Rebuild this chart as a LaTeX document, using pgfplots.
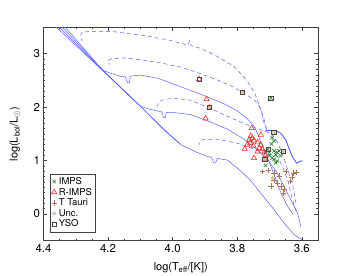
\documentclass[border=0pt]{standalone}
\usepackage{fontspec}
\setmainfont{TeX Gyre Heros}
\usepackage{pgfplots}
\pgfplotsset{compat=1.18}
\definecolor{trk}{RGB}{85,95,255}
\definecolor{impsc}{RGB}{30,120,30}
\definecolor{rimpsc}{RGB}{250,40,40}
\definecolor{ttauc}{RGB}{175,115,85}
\definecolor{uncc}{RGB}{215,190,150}
\definecolor{ysoc}{RGB}{70,70,70}
\begin{document}
\begin{tikzpicture}
\useasboundingbox (-43.5bp,-35.3bp) rectangle (301.5bp,240.7bp);
\begin{axis}[
  at={(0,0)}, anchor=south west,
  scale only axis, width=274.5bp, height=213.7bp,
  x dir=reverse, xmin=3.55, xmax=4.4, ymin=-0.5, ymax=3.5,
  xtick={3.6,3.8,4.0,4.2,4.4}, ytick={0,1,2,3},
  minor x tick num=3, minor y tick num=9,
  tick align=inside, xtick pos=both, ytick pos=both,
  major tick length=4bp, minor tick length=2bp,
  axis line style={black!75, line width=0.6pt},
  every tick/.style={black!75, line width=0.5pt},
  xticklabel style={/pgf/number format/fixed, /pgf/number format/precision=1, /pgf/number format/fixed zerofill},
  /pgf/number format/assume math mode=true,
  tick label style={font=\fontsize{11.5}{13}\selectfont},
  label style={font=\fontsize{11}{13}\selectfont},
  xlabel={log(T\textsubscript{eff}/[K])},
  ylabel={log(L\textsubscript{bol}/L\textsubscript{$\odot$})},
  xlabel style={at={(axis description cs:0.5,-0.126)}, anchor=center},
  ylabel style={at={(axis description cs:-0.104,0.5)}, anchor=center},
  legend style={at={(axis description cs:0.023,0.04)}, anchor=south west,
    font=\fontsize{9.5}{10}\selectfont, draw=black!75, inner sep=1.5pt, row sep=-1.8pt,
    cells={anchor=west}},
  legend cell align=left,
]
% ---- solid lines
\addplot[trk, line width=0.5pt, forget plot] coordinates {
(4.378,3.6) (4.22,2.70) (4.193,2.637) (4.16,2.575) (4.147,2.57) (4.140,2.46) (4.134,2.45) (4.131,2.58) (4.10,2.60) (4.045,2.54) (3.97,2.37) (3.90,2.21) (3.84,2.06) (3.80,1.93) (3.77,1.79) (3.75,1.66) (3.738,1.52) (3.722,1.27) (3.70,0.96) (3.68,0.64) (3.665,0.40) (3.645,0.15) (3.628,0.0)};
\addplot[trk, line width=0.5pt, forget plot] coordinates {
(4.368,3.6) (4.214,2.672) (4.10,2.013) (4.07,1.96) (4.045,1.925) (4.033,1.91) (4.029,1.81) (4.023,1.80) (4.020,1.90) (3.997,1.90) (3.945,1.86) (3.882,1.72) (3.831,1.59) (3.779,1.40) (3.737,1.20) (3.706,1.014) (3.675,0.764) (3.655,0.515) (3.634,0.265) (3.613,0.015) (3.603,-0.234)};
\addplot[trk, line width=0.5pt, forget plot] coordinates {
(4.358,3.6) (4.214,2.674) (4.10,2.017) (4.028,1.58) (3.976,1.30) (3.955,1.24) (3.92,1.14) (3.879,1.05) (3.873,0.96) (3.867,0.955) (3.862,1.04) (3.831,1.01) (3.80,0.86) (3.76,0.64) (3.725,0.37) (3.69,0.11) (3.655,-0.17) (3.625,-0.38) (3.60,-0.48)};
\addplot[trk, line width=0.5pt, forget plot] coordinates {
(4.348,3.6) (4.214,2.676) (4.10,2.02) (4.03,1.60) (3.976,1.31)};
\addplot[trk, line width=0.9pt, forget plot] coordinates {
(3.712,1.56) (3.695,1.565) (3.68,1.56) (3.665,1.51) (3.65,1.39) (3.64,1.23) (3.63,1.08) (3.616,0.95) (3.608,0.98) (3.598,1.0)};
% ---- dashed lines
\addplot[trk, line width=0.5pt, dash pattern=on 4bp off 3bp, forget plot] coordinates {
(3.708,1.56) (3.717,1.70) (3.727,1.95) (3.745,2.25) (3.77,2.50) (3.81,2.76) (3.862,2.95) (3.913,3.10) (3.943,3.15) (3.948,3.24) (3.953,3.16) (4.007,3.25) (4.089,3.34) (4.193,3.42) (4.276,3.41) (4.284,3.38) (4.285,3.30) (4.281,3.24)};
\addplot[trk, line width=0.5pt, dash pattern=on 4bp off 3bp, forget plot] coordinates {
(3.71,1.60) (3.718,1.80) (3.73,2.0) (3.745,2.12) (3.78,2.27) (3.82,2.40) (3.87,2.53) (3.92,2.64) (3.97,2.74) (4.03,2.82) (4.10,2.89) (4.15,2.92) (4.188,2.91) (4.198,2.88) (4.200,2.84) (4.195,2.80)};
\addplot[trk, line width=0.5pt, dash pattern=on 4bp off 3bp, forget plot] coordinates {
(3.618,0.2) (3.624,0.39) (3.63,0.58) (3.64,0.76) (3.65,0.95) (3.665,1.20) (3.68,1.39) (3.696,1.51) (3.758,1.64) (3.82,1.80) (3.893,2.00) (3.945,2.13) (3.997,2.17) (4.035,2.13) (4.045,2.06) (4.048,2.01)};
\addplot[trk, line width=0.5pt, dash pattern=on 4bp off 3bp, forget plot] coordinates {
(3.618,0.05) (3.626,0.20) (3.634,0.39) (3.644,0.64) (3.66,0.89) (3.675,1.077) (3.717,1.139) (3.758,1.233) (3.80,1.326) (3.862,1.40) (3.908,1.389) (3.917,1.34) (3.919,1.295)};
% ---- markers
\addplot[only marks, mark=x, mark size=2.5pt, impsc, line width=0.55pt] coordinates {
(3.696,2.17) (3.692,1.43) (3.686,1.37) (3.694,1.31) (3.705,1.21) (3.712,1.18) (3.700,1.15) (3.686,1.18) (3.681,1.11) (3.676,1.15) (3.671,1.18) (3.666,1.09) (3.686,1.02) (3.676,0.99) (3.681,0.96) (3.692,1.05) (3.712,0.91) (3.700,1.09)};
\addlegendentry{IMPS}
\addplot[only marks, mark=triangle, mark size=3pt, rimpsc, line width=0.6pt] coordinates {
(3.918,2.525) (3.895,2.15) (3.886,1.994) (3.898,1.788) (3.755,1.607) (3.727,1.482) (3.758,1.463) (3.753,1.42) (3.763,1.389) (3.748,1.376) (3.760,1.326) (3.737,1.339) (3.769,1.295) (3.750,1.276) (3.727,1.295) (3.777,1.22) (3.732,1.233) (3.722,1.214) (3.737,1.17) (3.717,1.152) (3.748,1.045) (3.715,1.027) (3.712,1.108)};
\addlegendentry{R-IMPS}
\addplot[only marks, mark=+, mark size=2.7pt, ttauc, line width=0.65pt] coordinates {
(3.722,0.796) (3.704,0.814) (3.686,0.764) (3.670,0.714) (3.649,0.796) (3.626,0.764) (3.630,0.69) (3.686,0.627) (3.675,0.577) (3.665,0.527) (3.696,0.527) (3.655,0.465) (3.657,0.39) (3.636,0.608) (3.618,0.777)};
\addlegendentry{T Tauri}
\addplot[only marks, mark=asterisk, mark size=2.2pt, uncc, line width=0.8pt] coordinates {
(3.784,2.281) (3.886,1.994) (3.686,1.526) (3.657,1.17) (3.715,1.027) (3.691,0.67)};
\addlegendentry{Unc.}
\addplot[only marks, mark=square, mark size=2.3pt, ysoc, line width=0.6pt] coordinates {
(3.918,2.525) (3.784,2.281) (3.696,2.169) (3.886,1.994) (3.686,1.526) (3.704,1.214) (3.657,1.17) (3.715,1.027)};
\addlegendentry{YSO}
\end{axis}
\end{tikzpicture}
\end{document}
